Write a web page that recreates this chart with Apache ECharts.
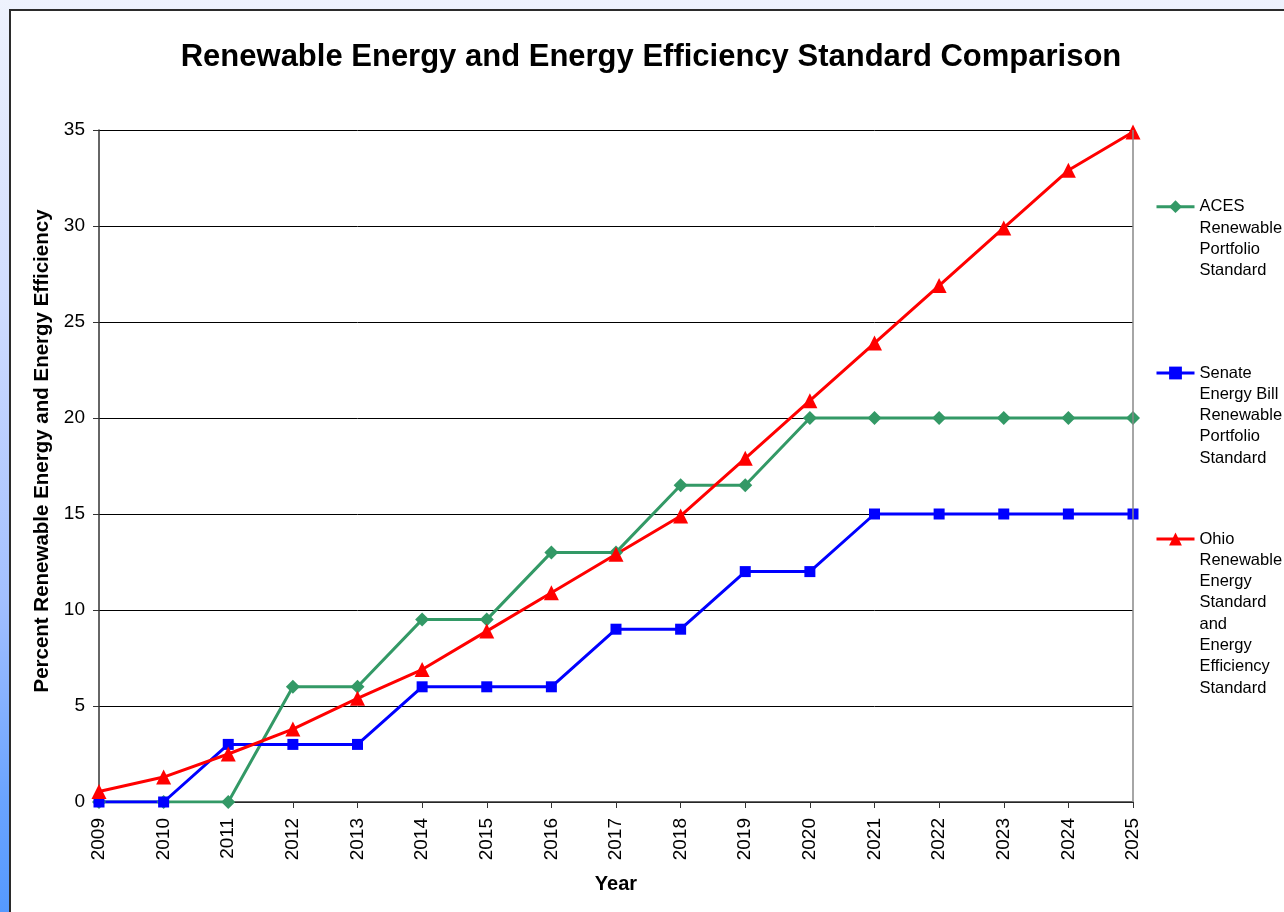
<!DOCTYPE html>
<html>
<head>
<meta charset="utf-8">
<script src="https://cdn.jsdelivr.net/npm/echarts@6/dist/echarts.min.js"></script>
<style>
  html, body { margin: 0; padding: 0; }
  #chart { width: 1284px; height: 912px; }
</style>
</head>
<body>
<div id="chart"></div>
<script>
const years = ['2009', '2010', '2011', '2012', '2013', '2014', '2015', '2016', '2017',
  '2018', '2019', '2020', '2021', '2022', '2023', '2024', '2025'];
const acesRps = [0, 0, 0, 6, 6, 9.5, 9.5, 13, 13, 16.5, 16.5, 20, 20, 20, 20, 20, 20];
const senateRps = [0, 0, 3, 3, 3, 6, 6, 6, 9, 9, 12, 12, 15, 15, 15, 15, 15];
const ohioStd = [0.55, 1.3, 2.5, 3.8, 5.4, 6.9, 8.9, 10.9, 12.9, 14.9, 17.9, 20.9, 23.9, 26.9, 29.9, 32.9, 34.9];
const yTicks = [0, 5, 10, 15, 20, 25, 30, 35];

const nameAces = 'ACES\nRenewable\nPortfolio\nStandard';
const nameSenate = 'Senate\nEnergy Bill\nRenewable\nPortfolio\nStandard';
const nameOhio = 'Ohio\nRenewable\nEnergy\nStandard\nand\nEnergy\nEfficiency\nStandard';

const font = 'Arial, "Liberation Sans", sans-serif';
const lh = 21.3;

var myChart = echarts.init(document.getElementById('chart'));

// one legend per series so the icon sits on the first line of its label
function legendFor(name, iconY) {
  const n = name.split('\n').length;
  return {
    data: [name],
    orient: 'vertical',
    left: 1155,
    top: iconY - (2 * n - 1) * lh / 2,
    padding: 0,
    itemWidth: 38,
    itemHeight: 16,
    itemGap: 5,
    selectedMode: false,
    lineStyle: { width: 3 },
    formatter: function (s) { return '\n'.repeat(n - 1) + s; },
    textStyle: {
      fontFamily: font,
      fontSize: 16.5,
      color: '#000',
      lineHeight: lh
    }
  };
}

var option = {
  backgroundColor: 'transparent',
  animation: false,
  graphic: [
    {
      type: 'rect',
      z: -10,
      silent: true,
      shape: { x: 0, y: 0, width: 1284, height: 912 },
      style: {
        fill: new echarts.graphic.LinearGradient(0, 0, 0, 1, [
          { offset: 0, color: '#eef2fd' },
          { offset: 0.33, color: '#d0dcfe' },
          { offset: 0.66, color: '#a2bfff' },
          { offset: 0.88, color: '#69a3ff' },
          { offset: 1, color: '#5599ff' }
        ])
      }
    },
    {
      type: 'rect',
      z: -9,
      silent: true,
      shape: { x: 10, y: 10, width: 1290, height: 920 },
      style: { fill: '#fff', stroke: '#2b2b2b', lineWidth: 2 }
    }
  ],
  title: {
    text: 'Renewable Energy and Energy Efficiency Standard Comparison',
    left: 646,
    textAlign: 'center',
    top: 37,
    textStyle: { fontFamily: font, fontSize: 31, fontWeight: 'bold', color: '#000' }
  },
  grid: { left: 99, right: 151, top: 130, bottom: 110 },
  legend: [
    legendFor(nameAces, 206.7),
    legendFor(nameSenate, 373),
    legendFor(nameOhio, 539)
  ],
  xAxis: {
    type: 'category',
    data: years,
    boundaryGap: false,
    name: 'Year',
    nameLocation: 'middle',
    nameGap: 72,
    nameTextStyle: { fontFamily: font, fontSize: 20, fontWeight: 'bold', color: '#000' },
    axisLine: { lineStyle: { color: '#333', width: 1.5 } },
    axisTick: { show: true, length: 6, lineStyle: { color: '#333' } },
    axisLabel: { rotate: 90, fontFamily: font, fontSize: 19, color: '#000', margin: 16 },
    splitLine: { show: false }
  },
  yAxis: {
    type: 'value',
    min: 0,
    max: 35,
    interval: 5,
    name: 'Percent Renewable Energy and Energy Efficiency',
    nameLocation: 'middle',
    nameGap: 44,
    nameTextStyle: {
      fontFamily: font, fontSize: 20.5, fontWeight: 'bold', color: '#000',
      padding: [0, 0, 0, 30]
    },
    axisLine: { show: true, lineStyle: { color: '#333', width: 1.5 } },
    axisTick: { show: true, length: 6, lineStyle: { color: '#333' } },
    axisLabel: {
      fontFamily: font, fontSize: 19, color: '#000', margin: 14,
      formatter: function (v) { return yTicks.indexOf(v) >= 0 ? String(v) : ''; }
    },
    splitLine: { show: true, lineStyle: { color: '#000', width: 1 } }
  },
  series: [
    {
      name: nameAces,
      type: 'line',
      data: acesRps,
      symbol: 'diamond',
      symbolSize: 14,
      lineStyle: { color: '#339966', width: 3 },
      itemStyle: { color: '#339966' }
    },
    {
      name: nameSenate,
      type: 'line',
      data: senateRps,
      symbol: 'rect',
      symbolSize: 11,
      lineStyle: { color: '#0000ff', width: 3 },
      itemStyle: { color: '#0000ff' }
    },
    {
      name: nameOhio,
      type: 'line',
      data: ohioStd,
      symbol: 'triangle',
      symbolSize: 15,
      lineStyle: { color: '#ff0000', width: 3 },
      itemStyle: { color: '#ff0000' }
    },
    {
      // right-hand border of the plot area
      type: 'line',
      data: [],
      markLine: {
        silent: true,
        symbol: 'none',
        label: { show: false },
        lineStyle: { color: '#888', type: 'solid', width: 1.5 },
        data: [{ xAxis: '2025' }]
      }
    }
  ]
};

option && myChart.setOption(option);
</script>
</body>
</html>
